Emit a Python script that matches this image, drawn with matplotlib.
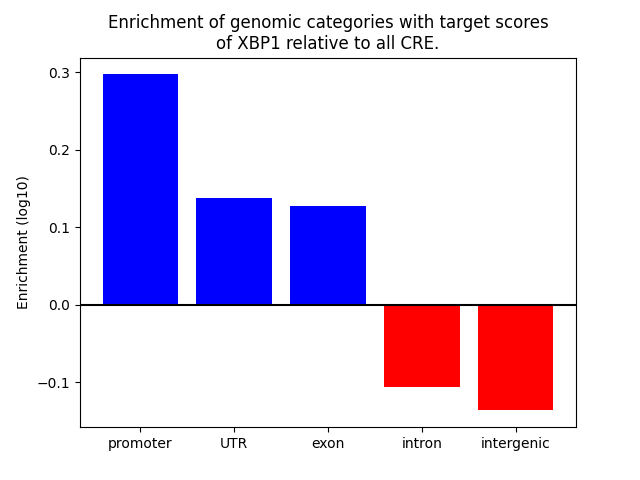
import matplotlib
matplotlib.use("Agg")
import matplotlib.pyplot as plt

categories = ["promoter", "UTR", "exon", "intron", "intergenic"]
enrichment = [0.297, 0.138, 0.127, -0.106, -0.136]

colors = ["blue" if v > 0 else "red" for v in enrichment]

fig, ax = plt.subplots(figsize=(6.4, 4.8), dpi=100)
ax.bar(range(len(categories)), enrichment, color=colors)
ax.axhline(0, color="black")
ax.set_xticks(range(len(categories)))
ax.set_xticklabels(categories)
ax.set_ylabel("Enrichment (log10)")
ax.set_title("Enrichment of genomic categories with target scores\nof XBP1 relative to all CRE.")

plt.savefig("out.png")
